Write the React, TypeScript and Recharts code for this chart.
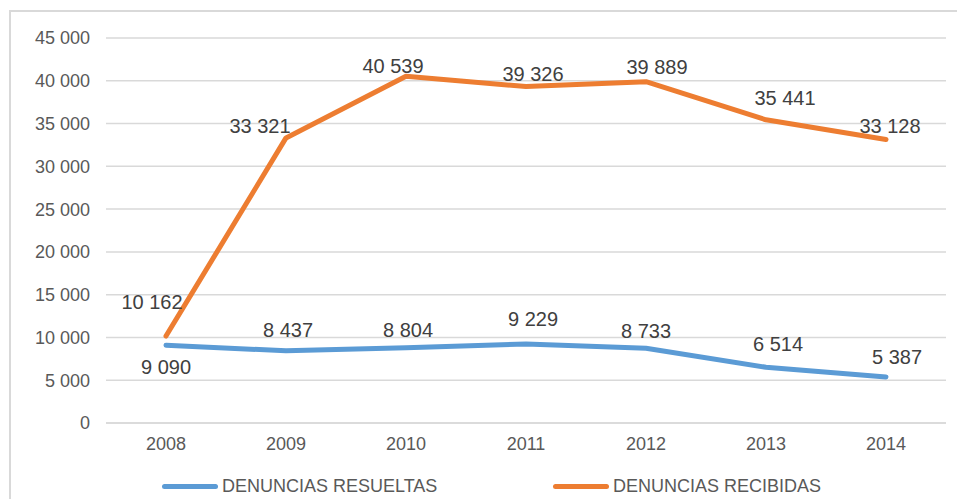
import React from 'react';
import { LineChart, Line, XAxis, YAxis, CartesianGrid, Legend, LabelList } from 'recharts';

const years = ['2008', '2009', '2010', '2011', '2012', '2013', '2014'];
const resueltas = [9090, 8437, 8804, 9229, 8733, 6514, 5387];
const recibidas = [10162, 33321, 40539, 39326, 39889, 35441, 33128];
const yTicks = [0, 5000, 10000, 15000, 20000, 25000, 30000, 35000, 40000, 45000];

const BLUE = '#5B9BD5';
const ORANGE = '#ED7D31';
const FONT = '"Liberation Sans", Arial, sans-serif';

// label nudges, roughly where Excel put them
const blueNudge = [[0, 22], [2, -21], [2, -18], [7, -25], [0, -17], [12, -23], [11, -20]];
const orangeNudge = [[-14, -34], [-26, -12], [-13, -10], [7, -13], [11, -15], [19, -22], [4, -14]];

const data = years.map((year, i) => ({ year, resueltas: resueltas[i], recibidas: recibidas[i] }));

const fmt = (v: number) => String(v).replace(/\B(?=(\d{3})+(?!\d))/g, ' ');

const makeLabel = (nudge: number[][]) => (props: any) => {
  const { x, y, value, index } = props;
  const [dx, dy] = nudge[index] || [0, -15];
  return (
    <text x={x + dx} y={y + dy} textAnchor="middle" dominantBaseline="central"
      fontSize={20} fill="#404040" fontFamily={FONT}>
      {fmt(value)}
    </text>
  );
};

const LegendBox = () => (
  <div style={{ height: 36, position: 'relative', fontFamily: FONT, fontSize: 18, color: '#595959' }}>
    {[{ name: 'DENUNCIAS RESUELTAS', c: BLUE, left: 154 }, { name: 'DENUNCIAS RECIBIDAS', c: ORANGE, left: 545 }].map(it => (
      <div key={it.name} style={{ position: 'absolute', left: it.left, top: 13, display: 'flex', alignItems: 'center', whiteSpace: 'nowrap' }}>
        <span style={{ display: 'inline-block', width: 56, height: 5, borderRadius: 3, background: it.c, marginRight: 4 }} />
        <span>{it.name}</span>
      </div>
    ))}
  </div>
);

export default function App() {
  return (
    <div style={{ position: 'relative', width: 957, height: 491, overflow: 'hidden', background: '#fff' }}>
      <div style={{ position: 'absolute', left: 1, top: 2, width: 1000, height: 600, borderTop: '2px solid #d9d9d9', borderLeft: '2px solid #d9d9d9' }} />
      <LineChart width={957} height={491} data={data} margin={{ top: 30, right: 19, left: 0, bottom: 0 }}>
        <CartesianGrid vertical={false} stroke="#d9d9d9" strokeWidth={1.5} />
        <XAxis dataKey="year" padding={{ left: 60, right: 60 }} axisLine={{ stroke: '#d9d9d9', strokeWidth: 1.5 }} tickLine={false} tickSize={0} tickMargin={14}
          height={40} tick={{ fontSize: 18, fill: '#595959', fontFamily: FONT }} />
        <YAxis domain={[0, 45000]} ticks={yTicks} interval={0} width={98} axisLine={false} tickLine={false} tickSize={0} tickMargin={16}
          tickFormatter={fmt} tick={{ fontSize: 18, fill: '#595959', fontFamily: FONT }} />
        <Legend verticalAlign="bottom" content={() => <LegendBox />} />
        <Line type="linear" dataKey="resueltas" name="DENUNCIAS RESUELTAS" stroke={BLUE} strokeWidth={5}
          strokeLinecap="round" strokeLinejoin="round" dot={false} isAnimationActive={false}>
          <LabelList dataKey="resueltas" content={makeLabel(blueNudge)} />
        </Line>
        <Line type="linear" dataKey="recibidas" name="DENUNCIAS RECIBIDAS" stroke={ORANGE} strokeWidth={5}
          strokeLinecap="round" strokeLinejoin="round" dot={false} isAnimationActive={false}>
          <LabelList dataKey="recibidas" content={makeLabel(orangeNudge)} />
        </Line>
      </LineChart>
    </div>
  );
}
